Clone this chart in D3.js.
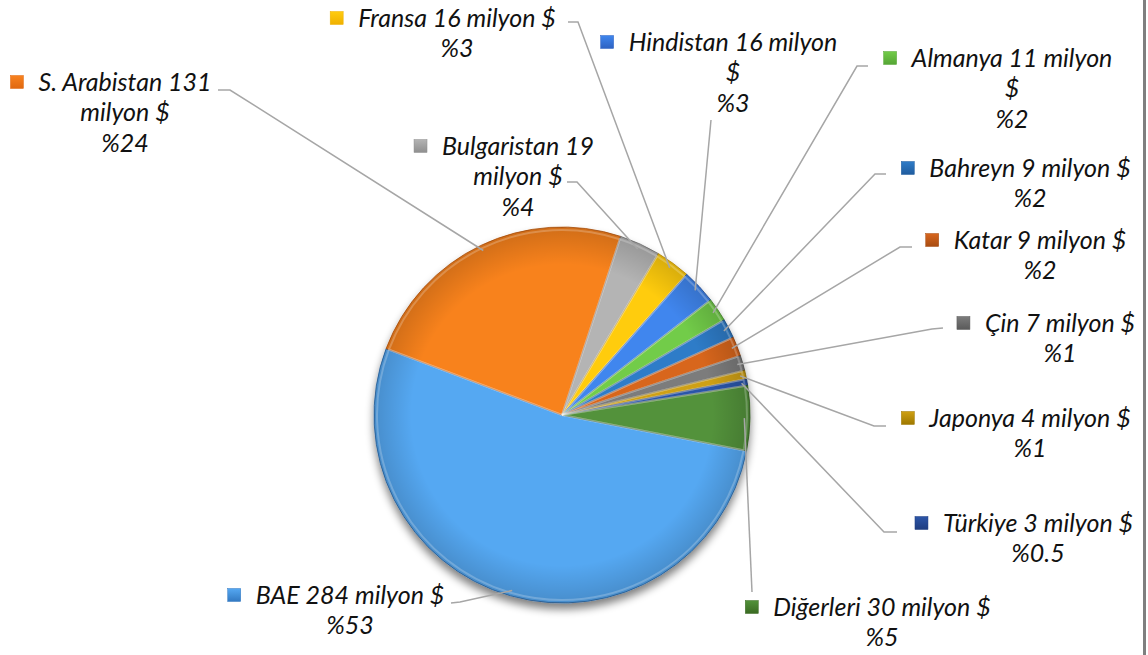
<!DOCTYPE html>
<html>
<head>
<meta charset="utf-8">
<script src="https://cdn.jsdelivr.net/npm/d3@7"></script>
<style>
  body { margin: 0; background: #fff; }
  svg text { font-family: Lato, "Liberation Sans", sans-serif; font-style: italic; fill: #111; }
</style>
</head>
<body>
<svg id="chart" width="1148" height="655"></svg>
<script>
// data (milyon $)
var countries = ["BAE", "S. Arabistan", "Bulgaristan", "Fransa", "Hindistan", "Almanya",
                 "Bahreyn", "Katar", "Çin", "Japonya", "Türkiye", "Diğerleri"];
var values = [284, 131, 19, 16, 16, 11, 9, 9, 7, 4, 3, 30];
var percentLabels = ["%53", "%24", "%4", "%3", "%3", "%2", "%2", "%2", "%1", "%1", "%0.5", "%5"];

// slice colours, light (top) and dark (bottom) end of the gradient
var lightColors = ["#55a8f2", "#f8821f", "#b4b4b4", "#ffcc10", "#3f86ee", "#72cc48",
                   "#2f7cc8", "#d8661e", "#7c7c7c", "#cfa012", "#2c55a8", "#52923a"];
var darkColors  = ["#3279c2", "#e06810", "#8f8f8f", "#efb000", "#2e62c2", "#55a535",
                   "#1f5c9e", "#a84c12", "#5a5a5a", "#9e7800", "#1f3d80", "#3a6a22"];

// label layout: centre x, first line y, words per line, leader start + elbow
var labelLayout = [
  { x: 350,  y: 595, breaks: [4],    lead: [[451, 603], [460, 602]] },
  { x: 125,  y: 82,  breaks: [3, 2], lead: [[218, 90], [230, 90]] },
  { x: 518,  y: 146, breaks: [2, 2], lead: [[567, 182], [577, 182]] },
  { x: 457,  y: 18,  breaks: [4],    lead: [[568, 22], [578, 22]] },
  { x: 733,  y: 42,  breaks: [3, 1], lead: [[711, 120], [711, 120]] },
  { x: 1012, y: 58,  breaks: [3, 1], lead: [[868, 66], [857, 66]] },
  { x: 1030, y: 168, breaks: [4],    lead: [[886, 174], [875, 174]] },
  { x: 1040, y: 240, breaks: [4],    lead: [[912, 247], [900, 247]] },
  { x: 1060, y: 323, breaks: [4],    lead: [[943, 328], [932, 329]] },
  { x: 1030, y: 418, breaks: [4],    lead: [[886, 426], [874, 426]] },
  { x: 1038, y: 523, breaks: [4],    lead: [[897, 532], [884, 532]] },
  { x: 882,  y: 607, breaks: [4],    lead: [[752, 592], [752, 592]] }
];

var CX = 562, CY = 415, R = 188;
var START = 101 * Math.PI / 180;
var LINE_HEIGHT = 30.5;
var FONT_SIZE = 25;

var svg = d3.select("#chart");
var defs = svg.append("defs");

// soft shadow under the pie
var shadow = defs.append("filter").attr("id", "shadow")
  .attr("x", "-20%").attr("y", "-20%").attr("width", "140%").attr("height", "140%");
shadow.append("feGaussianBlur").attr("in", "SourceAlpha").attr("stdDeviation", 4);
shadow.append("feOffset").attr("dx", 0).attr("dy", 6).attr("result", "off");
shadow.append("feComponentTransfer").append("feFuncA").attr("type", "linear").attr("slope", 0.5);
var merge = shadow.append("feMerge");
merge.append("feMergeNode");
merge.append("feMergeNode").attr("in", "SourceGraphic");

// darker rim so the pie reads a bit rounded
var rim = defs.append("radialGradient").attr("id", "rim");
rim.append("stop").attr("offset", "80%").attr("stop-color", "#000").attr("stop-opacity", 0);
rim.append("stop").attr("offset", "100%").attr("stop-color", "#000").attr("stop-opacity", 0.16);

countries.forEach(function(c, i) {
  var g = defs.append("linearGradient").attr("id", "grad" + i)
    .attr("gradientUnits", "userSpaceOnUse")
    .attr("x1", 0).attr("y1", CY - R).attr("x2", 0).attr("y2", CY + R);
  g.append("stop").attr("offset", "0%").attr("stop-color", lightColors[i]);
  g.append("stop").attr("offset", "100%").attr("stop-color", darkColors[i]);
  var k = defs.append("linearGradient").attr("id", "key" + i)
    .attr("x1", 0).attr("y1", 0).attr("x2", 0).attr("y2", 1);
  k.append("stop").attr("offset", "0%").attr("stop-color", lightColors[i]);
  k.append("stop").attr("offset", "100%").attr("stop-color", darkColors[i]);
});

var pie = d3.pie().sort(null).value(function(d) { return d; })
  .startAngle(START)
  .endAngle(START + 2 * Math.PI);
var arcs = pie(values);
var arc = d3.arc().innerRadius(0).outerRadius(R);

var pieG = svg.append("g").attr("transform", "translate(" + CX + "," + CY + ")");
pieG.append("g").attr("filter", "url(#shadow)")
  .selectAll("path")
  .data(arcs)
  .enter()
  .append("path")
  .attr("d", arc)
  .attr("fill", function(d, i) { return "url(#grad" + i + ")"; })
  .attr("stroke", function(d, i) { return d3.color(darkColors[i]).darker(0.6); })
  .attr("stroke-width", 0.8)
  .attr("stroke-linejoin", "round");

pieG.append("circle").attr("r", R).attr("fill", "url(#rim)");

// light bevel along each slice edge
var bevelArc = d3.arc().innerRadius(0).outerRadius(R - 3);
pieG.append("g").selectAll("path")
  .data(arcs)
  .enter()
  .append("path")
  .attr("d", bevelArc)
  .attr("fill", "none")
  .attr("stroke", "#fff")
  .attr("stroke-opacity", 0.22)
  .attr("stroke-width", 2);

// leader lines
function edgePoint(d) {
  var a = (d.startAngle + d.endAngle) / 2, r = R * 0.97;
  return [CX + r * Math.sin(a), CY - r * Math.cos(a)];
}
svg.append("g").selectAll("polyline")
  .data(arcs)
  .enter()
  .append("polyline")
  .attr("points", function(d, i) {
    var l = labelLayout[i].lead;
    return [l[0], l[1], edgePoint(d)].map(function(p) { return p.join(","); }).join(" ");
  })
  .attr("fill", "none")
  .attr("stroke", "#a6a6a6")
  .attr("stroke-width", 1.5);

// data labels
var labels = svg.append("g").selectAll("g")
  .data(arcs)
  .enter()
  .append("g");

labels.each(function(d, i) {
  var g = d3.select(this);
  var lay = labelLayout[i];
  var words = (countries[i] + " " + values[i] + " milyon $").split(" ");
  var lines = [], pos = 0;
  lay.breaks.forEach(function(n) { lines.push(words.slice(pos, pos + n).join(" ")); pos += n; });
  lines.push(percentLabels[i]);
  var first;
  lines.forEach(function(t, j) {
    var txt = g.append("text")
      .attr("x", lay.x)
      .attr("y", lay.y + j * LINE_HEIGHT)
      .attr("dy", "0.35em")
      .attr("text-anchor", "middle")
      .style("font-size", FONT_SIZE + "px")
      .text(t);
    if (j == 0) first = txt;
  });
  var w = first.node().getComputedTextLength();
  g.append("rect")
    .attr("x", lay.x - w / 2 - 28)
    .attr("y", lay.y - 6.5)
    .attr("width", 13)
    .attr("height", 13)
    .attr("fill", "url(#key" + i + ")")
    .attr("stroke", darkColors[i])
    .attr("stroke-width", 0.5);
});

// frame edge on the right
svg.append("line")
  .attr("x1", 1144.5).attr("x2", 1144.5)
  .attr("y1", 0).attr("y2", 655)
  .attr("stroke", "#7f7f7f")
  .attr("stroke-width", 3);
</script>
</body>
</html>
